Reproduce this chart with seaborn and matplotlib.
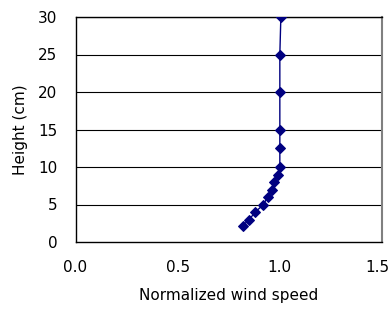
import matplotlib
matplotlib.use("Agg")
import matplotlib.pyplot as plt
import matplotlib.transforms as mtransforms
import seaborn as sns
import pandas as pd

heights = [2.2, 3, 4, 5, 6, 7, 8, 9, 10, 12.5, 15, 20, 25, 30]
speeds = [0.82, 0.85, 0.88, 0.92, 0.94, 0.96, 0.97, 0.99, 1.0, 1.0, 1.0, 1.0, 1.0, 1.005]
x_ticks = [0.0, 0.5, 1.0, 1.5]
y_ticks = [0, 5, 10, 15, 20, 25, 30]

df = pd.DataFrame({"speed": speeds, "height": heights})

sns.set_style("white")
plt.rcParams['font.family'] = ['DejaVu Sans']
plt.rcParams['text.color'] = 'black'
plt.rcParams['axes.labelcolor'] = 'black'

fig = plt.figure(figsize=(3.91, 3.11), dpi=100)
ax = fig.add_axes([75.5/391, 1-242/311, (382-75.5)/391, (242-17)/311])

for y in y_ticks[1:]:
    ax.axhline(y, color="black", lw=0.8, zorder=1)

sns.lineplot(data=df, x="speed", y="height", sort=False, estimator=None,
             color="#000080", lw=1, marker="D", markersize=4.6,
             markeredgecolor="#000080", ax=ax, zorder=3)

ax.set_xlim(0, 1.5)
ax.set_ylim(0, 30)
ax.set_xticks(x_ticks)
ax.set_xticklabels([f"{v:.1f}" for v in x_ticks])
ax.set_yticks(y_ticks)
ax.tick_params(axis="both", direction="in", length=4, width=0.8, labelsize=11,
               colors="black", labelcolor="black")
ax.tick_params(axis="x", pad=13)
ax.tick_params(axis="y", pad=13)
ax.set_xlabel("Normalized wind speed", fontsize=11, labelpad=9, color="black")
ax.set_ylabel("Height (cm)", fontsize=11, labelpad=7, color="black")

# keep the last x tick label inside the figure, as in the reference
last = ax.get_xticklabels()[-1]
last.set_transform(last.get_transform() + mtransforms.ScaledTranslation(-5/100, 0, fig.dpi_scale_trans))

for s in ["left", "bottom", "top"]:
    ax.spines[s].set_color("black")
    ax.spines[s].set_linewidth(1)
ax.spines["right"].set_color("#808080")
ax.spines["right"].set_linewidth(1.5)

fig.savefig("out.png", dpi=100)
